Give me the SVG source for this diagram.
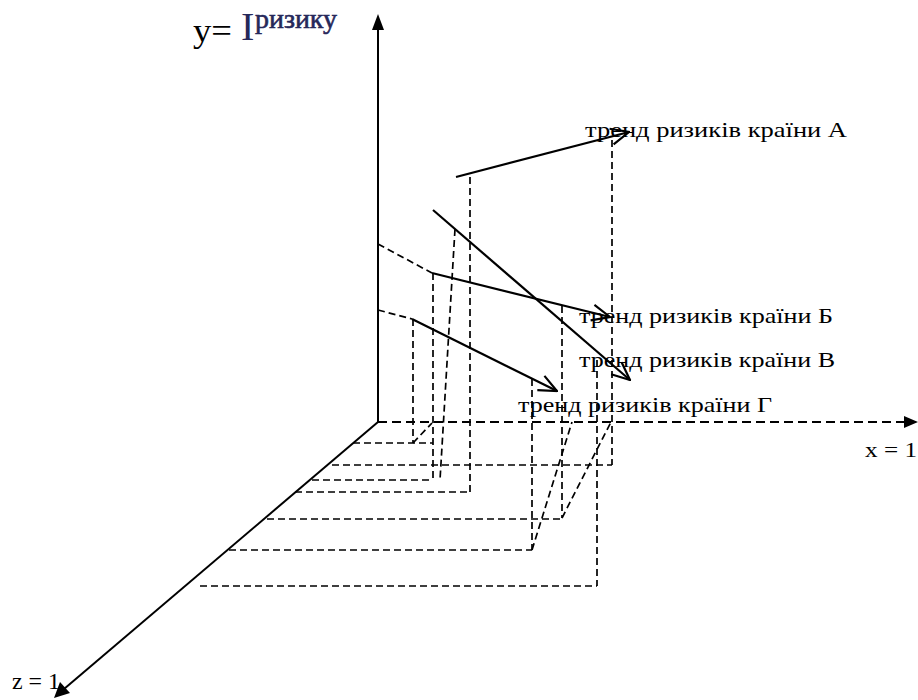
<svg xmlns="http://www.w3.org/2000/svg" width="918" height="700" viewBox="0 0 918 700">
<style>
.ax{stroke:#000;stroke-width:2;fill:none}
.axd{stroke:#000;stroke-width:2.2;fill:none;stroke-dasharray:9,5}
.d{stroke:#000;stroke-width:1.7;fill:none;stroke-dasharray:7,4}
.tr{stroke:#000;stroke-width:2.2;fill:none;marker-end:url(#open)}
.t{font-family:"Liberation Serif","Times New Roman",serif;fill:#000}
</style>
<defs>
<marker id="open" markerUnits="userSpaceOnUse" viewBox="0 0 20 20" refX="19" refY="10" markerWidth="20" markerHeight="20" orient="auto">
<path d="M1,2 L19,10 L1,18" fill="none" stroke="#000" stroke-width="2.2"/>
</marker>
</defs>
<rect width="918" height="700" fill="#fff"/>
<g id="axes">
<line class="ax" x1="378" y1="422" x2="378" y2="28"/>
<polygon points="378,14 372,30 384,30" fill="#000"/>
<line class="axd" x1="378" y1="422" x2="906" y2="422"/>
<polygon points="918,422 904,416 904,428" fill="#000"/>
<line class="ax" x1="378" y1="422" x2="64" y2="689"/>
<polygon points="54,698 60,682 70,693" fill="#000"/>
</g>
<g id="axis-labels">
<text class="t" x="193" y="42" font-size="33" textLength="39" lengthAdjust="spacingAndGlyphs">y=</text>
<text class="t" x="241" y="40" font-size="40" style="fill:#26285a">I</text>
<text class="t" x="255" y="28" font-size="27" textLength="82" lengthAdjust="spacingAndGlyphs" style="fill:#26285a;stroke:#26285a;stroke-width:0.6">ризику</text>
<text class="t" x="865" y="457" font-size="22" textLength="52" lengthAdjust="spacingAndGlyphs">x = 1</text>
<text class="t" x="12" y="689" font-size="23" textLength="48" lengthAdjust="spacingAndGlyphs">z = 1</text>
</g>
<g id="connectors">
<line class="d" x1="378" y1="244" x2="432" y2="273"/>
<line class="d" x1="378" y1="310" x2="412" y2="319"/>
<line class="d" x1="413" y1="319" x2="413" y2="443"/>
<line class="d" x1="433" y1="273" x2="433" y2="480"/>
<line class="d" x1="470" y1="177" x2="470" y2="492"/>
<line class="d" x1="455" y1="229" x2="440" y2="480"/>
<line class="d" x1="532" y1="379" x2="532" y2="550"/>
<line class="d" x1="562" y1="306" x2="562" y2="518"/>
<line class="d" x1="597" y1="360" x2="597" y2="586"/>
<line class="d" x1="612" y1="140" x2="612" y2="465"/>
<line class="d" x1="353" y1="443" x2="433" y2="443"/>
<line class="d" x1="332" y1="465" x2="612" y2="465"/>
<line class="d" x1="312" y1="480" x2="433" y2="480"/>
<line class="d" x1="295" y1="492" x2="470" y2="492"/>
<line class="d" x1="267" y1="519" x2="562" y2="519"/>
<line class="d" x1="229" y1="550" x2="532" y2="550"/>
<line class="d" x1="200" y1="586" x2="597" y2="586"/>
<line class="d" x1="413" y1="443" x2="432" y2="423"/>
<line class="d" x1="532" y1="550" x2="572" y2="422"/>
<line class="d" x1="562" y1="518" x2="611" y2="422"/>
</g>
<g id="trend-A">
<line class="tr" x1="456" y1="177" x2="629" y2="132"/>
<text class="t" x="585" y="137" font-size="22" textLength="262" lengthAdjust="spacingAndGlyphs">тренд ризиків країни А</text>
</g>
<g id="trend-B">
<line class="tr" x1="432" y1="273" x2="610" y2="317"/>
<text class="t" x="579" y="323" font-size="22" textLength="254" lengthAdjust="spacingAndGlyphs">тренд ризиків країни Б</text>
</g>
<g id="trend-V">
<line class="tr" x1="433" y1="210" x2="630" y2="380"/>
<text class="t" x="579" y="367" font-size="22" textLength="256" lengthAdjust="spacingAndGlyphs">тренд ризиків країни В</text>
</g>
<g id="trend-G">
<line class="tr" x1="412" y1="319" x2="557" y2="391"/>
<text class="t" x="518" y="412" font-size="22" textLength="254" lengthAdjust="spacingAndGlyphs">тренд ризиків країни Г</text>
</g>
</svg>
